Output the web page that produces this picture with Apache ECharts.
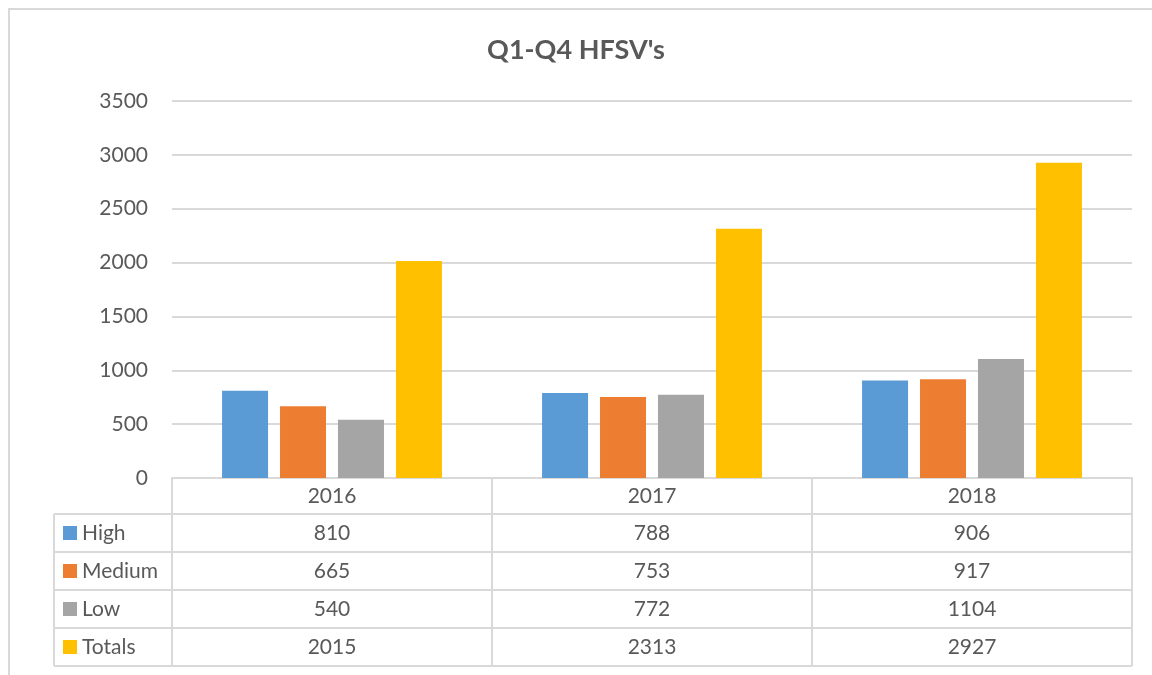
<!DOCTYPE html>
<html>
<head>
<meta charset="utf-8">
<script src="https://cdn.jsdelivr.net/npm/echarts@6/dist/echarts.min.js"></script>
<style>
  html, body { margin: 0; padding: 0; background: #fff; }
  #main { width: 1152px; height: 675px; }
</style>
</head>
<body>
<div id="main"></div>
<script>
const years = ['2016', '2017', '2018']
const seriesNames = ['High', 'Medium', 'Low', 'Totals']
const high = [810, 788, 906]
const medium = [665, 753, 917]
const low = [540, 772, 1104]
const totals = [2015, 2313, 2927]
const yTicks = [0, 3500, 500] // min, max, interval

const colors = ['#5B9BD5', '#ED7D31', '#A5A5A5', '#FFC000']
const textColor = '#595959'
const lineColor = '#D9D9D9'
const font = 'Lato, "Open Sans", sans-serif'
const fontSize = 21

// 画布布局
const gridLeft = 172
const gridRight = 1132
const gridTop = 101
const axisY = 478
const rowH = 38
const headH = 36
const tableLeft = 54

const chart = echarts.init(document.getElementById('main'))
const values = [high, medium, low, totals]

// 表格各行的文字用附加的类目轴画出
const rowAxes = values.map((arr, i) => ({
  type: 'category',
  gridIndex: 0,
  position: 'bottom',
  offset: headH + rowH * i + rowH / 2,
  data: arr.map(String),
  axisLine: { show: false },
  axisTick: { show: false },
  axisLabel: {
    margin: 0,
    verticalAlign: 'middle',
    color: textColor,
    fontSize: fontSize,
    fontFamily: font
  }
}))

const tableBottom = axisY + headH + rowH * values.length
const lines = []
for (let i = 0; i <= values.length; i++) {
  const y = axisY + headH + rowH * i
  lines.push({
    type: 'line',
    shape: { x1: tableLeft, y1: y, x2: gridRight, y2: y },
    style: { stroke: lineColor, lineWidth: 2 }
  })
}
lines.push({
  type: 'line',
  shape: { x1: tableLeft, y1: axisY + headH, x2: tableLeft, y2: tableBottom },
  style: { stroke: lineColor, lineWidth: 2 }
})
// 外框
lines.push({
  type: 'rect',
  shape: { x: 9, y: 9, width: 1200, height: 700 },
  style: { fill: null, stroke: lineColor, lineWidth: 2 }
})

chart.setOption({
  color: colors,
  animation: false,
  title: {
    text: "Q1-Q4 HFSV's",
    left: 'center',
    top: 32,
    textStyle: { color: textColor, fontSize: 27, fontWeight: 'bold', fontFamily: font }
  },
  legend: {
    orient: 'vertical',
    left: 63,
    top: axisY + headH + rowH / 2 - fontSize / 2,
    height: 200,
    padding: 0,
    itemWidth: 14,
    itemHeight: 14,
    itemGap: rowH - fontSize,
    icon: 'rect',
    selectedMode: false,
    textStyle: { color: textColor, fontSize: fontSize, fontFamily: font },
    data: seriesNames
  },
  grid: {
    left: gridLeft,
    right: 1152 - gridRight,
    top: gridTop,
    bottom: 675 - axisY
  },
  xAxis: [{
    type: 'category',
    data: years,
    axisLine: { lineStyle: { color: lineColor, width: 2 } },
    axisTick: { show: true, length: tableBottom - axisY, lineStyle: { color: lineColor, width: 2 } },
    axisLabel: {
      margin: headH / 2,
      verticalAlign: 'middle',
      color: textColor,
      fontSize: fontSize,
      fontFamily: font
    }
  }].concat(rowAxes),
  yAxis: {
    type: 'value',
    min: yTicks[0],
    max: yTicks[1],
    interval: yTicks[2],
    axisLine: { show: false },
    axisTick: { show: false },
    axisLabel: { margin: 24, color: textColor, fontSize: fontSize, fontFamily: font, formatter: v => String(v) },
    splitLine: { lineStyle: { color: lineColor, width: 2 } }
  },
  series: values.map((arr, i) => ({
    name: seriesNames[i],
    type: 'bar',
    xAxisIndex: 0,
    barWidth: 46,
    barGap: '26%',
    data: arr
  })),
  graphic: lines
})
</script>
</body>
</html>
